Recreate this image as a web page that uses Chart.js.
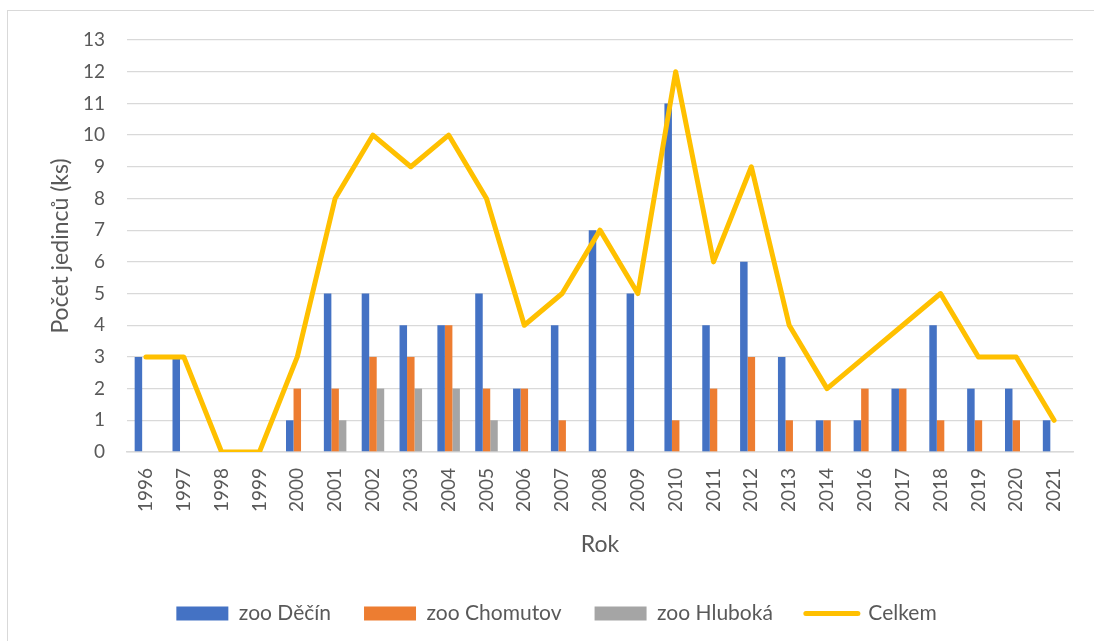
<!DOCTYPE html>
<html>
<head>
<meta charset="utf-8">
<script src="https://cdn.jsdelivr.net/npm/chart.js"></script>
<style>
  html, body { margin: 0; padding: 0; background: #fff; overflow: hidden; }
  #frame { position: absolute; left: 7px; top: 10px; width: 1200px; height: 700px;
           border-left: 1px solid #d9d9d9; border-top: 1px solid #d9d9d9; }
  #wrap { position: absolute; left: 0; top: 0; width: 1094px; height: 634px; }
</style>
</head>
<body>
<div id="frame"></div>
<div id="wrap"><canvas id="graf"></canvas></div>
<script>
// data (2015 is missing in the source)
var roky = ['1996','1997','1998','1999','2000','2001','2002','2003','2004','2005','2006','2007','2008',
            '2009','2010','2011','2012','2013','2014','2016','2017','2018','2019','2020','2021'];
var zooDecin    = [3,3,0,0,1,5,5,4,4,5,2,4,7,5,11,4,6,3,1,1,2,4,2,2,1];
var zooChomutov = [0,0,0,0,2,2,3,3,4,2,2,1,0,0,1,2,3,1,1,2,2,1,1,1,0];
var zooHluboka  = [0,0,0,0,0,1,2,2,2,1,0,0,0,0,0,0,0,0,0,0,0,0,0,0,0];
var celkem      = [3,3,0,0,3,8,10,9,10,8,4,5,7,5,12,6,9,4,2,3,4,5,3,3,1];
var yTicks      = [0,1,2,3,4,5,6,7,8,9,10,11,12,13];

var seda = '#595959';
var pismo = 'Lato, "Open Sans", sans-serif';

var ctx = document.getElementById('graf');
var chart = new Chart(ctx, {
    type: 'bar',
    data: {
        labels: roky,
        datasets: [
            { label: 'zoo Děčín', data: zooDecin, backgroundColor: '#4472C4', order: 1 },
            { label: 'zoo Chomutov', data: zooChomutov, backgroundColor: '#ED7D31', order: 1 },
            { label: 'zoo Hluboká', data: zooHluboka, backgroundColor: '#A5A5A5', order: 1 },
            {
                label: 'Celkem',
                type: 'line',
                data: celkem,
                borderColor: '#FFC000',
                backgroundColor: '#FFC000',
                borderWidth: 5,
                borderJoinStyle: 'round',
                borderCapStyle: 'round',
                pointRadius: 0,
                tension: 0,
                order: 0
            }
        ]
    },
    options: {
        responsive: true,
        maintainAspectRatio: false,
        animation: false,
        layout: { padding: { left: 40, right: 21, top: 40, bottom: 0 } },
        datasets: {
            bar: { categoryPercentage: 0.595, barPercentage: 1 }
        },
        plugins: {
            tooltip: { enabled: false },
            legend: {
                position: 'bottom',
                labels: {
                    color: seda,
                    font: { family: pismo, size: 21 },
                    usePointStyle: true,
                    pointStyleWidth: 52,
                    boxHeight: 14,
                    padding: 33,
                    generateLabels: function (ch) {
                        var items = Chart.defaults.plugins.legend.labels.generateLabels(ch);
                        items.forEach(function (it) {
                            if (ch.data.datasets[it.datasetIndex].type === 'line') {
                                it.pointStyle = 'line';
                                it.lineWidth = 5;
                                it.lineCap = 'round';
                                it.strokeStyle = '#FFC000';
                            } else {
                                it.pointStyle = 'rect';
                                it.lineWidth = 0;
                            }
                        });
                        items.sort(function (a, b) { return a.datasetIndex - b.datasetIndex; });
                        return items;
                    }
                }
            }
        },
        scales: {
            x: {
                grid: { display: false, drawTicks: false },
                border: { display: true, color: '#d9d9d9', width: 1.5 },
                ticks: {
                    color: seda,
                    font: { family: pismo, size: 19 },
                    minRotation: 90,
                    maxRotation: 90,
                    autoSkip: false,
                    padding: 16
                },
                title: {
                    display: true,
                    text: 'Rok',
                    color: seda,
                    font: { family: pismo, size: 23 },
                    padding: { top: 4, bottom: 12 }
                },
                afterFit: function (scale) { scale.height = 118; }
            },
            y: {
                min: 0,
                max: 13,
                afterBuildTicks: function (scale) {
                    scale.ticks = yTicks.map(function (v) { return { value: v }; });
                },
                grid: { color: '#d9d9d9', lineWidth: 1.3, drawTicks: false },
                border: { display: false },
                ticks: {
                    color: seda,
                    font: { family: pismo, size: 19 },
                    padding: 22
                },
                title: {
                    display: true,
                    text: 'Počet jedinců (ks)',
                    color: seda,
                    font: { family: pismo, size: 23 },
                    padding: { top: 7, bottom: 4 }
                },
                afterFit: function (scale) { scale.width = 87; }
            }
        }
    }
});
</script>
</body>
</html>
